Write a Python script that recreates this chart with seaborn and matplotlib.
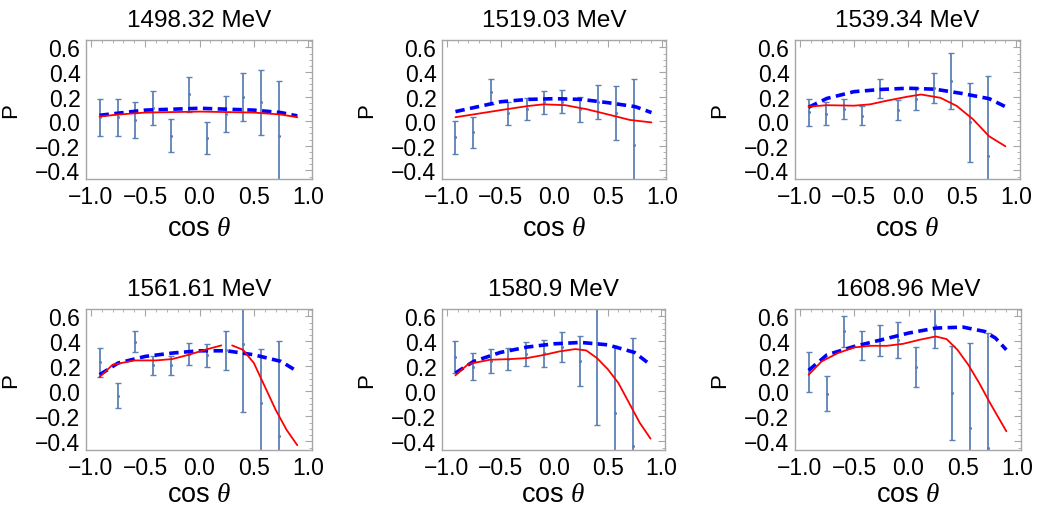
import numpy as np
import pandas as pd
import matplotlib
matplotlib.use("Agg")
import matplotlib.pyplot as plt
from matplotlib.ticker import MultipleLocator
import seaborn as sns

# ---------------- data ----------------
titles = ["1498.32 MeV", "1519.03 MeV", "1539.34 MeV",
          "1561.61 MeV", "1580.9 MeV", "1608.96 MeV"]

cos_bins = [-0.92, -0.755, -0.59, -0.43, -0.26, -0.095, 0.07, 0.24, 0.40, 0.57, 0.735]

p1 = [0.03, 0.03, 0.01, 0.107, -0.118, 0.217, -0.137, 0.059, 0.20, 0.155, -0.123]
e1 = [0.15, 0.15, 0.146, 0.14, 0.134, 0.142, 0.133, 0.145, 0.195, 0.264, 0.448]
p2 = [-0.132, -0.091, 0.239, 0.064, 0.10, 0.153, 0.158, 0.097, 0.156, 0.07, -0.196]
e2 = [0.133, 0.123, 0.10, 0.093, 0.09, 0.094, 0.093, 0.103, 0.137, 0.22, 0.54]
p3 = [0.072, 0.062, 0.10, 0.043, 0.263, 0.091, 0.18, 0.271, 0.33, -0.01, -0.28]
e3 = [0.11, 0.097, 0.08, 0.077, 0.078, 0.08, 0.087, 0.12, 0.227, 0.323, 0.644]
p4 = [0.232, -0.034, 0.397, 0.21, 0.21, 0.298, 0.288, 0.33, 0.38, -0.093, -0.36]
e4 = [0.116, 0.10, 0.084, 0.077, 0.077, 0.089, 0.093, 0.156, 0.548, 0.432, 0.76]
p5 = [0.277, 0.197, 0.245, 0.259, 0.299, 0.304, 0.357, 0.245, 0.385, -0.173, -0.435]
e5 = [0.13, 0.109, 0.097, 0.09, 0.093, 0.109, 0.121, 0.20, 0.653, 0.533, 0.861]
p6 = [0.155, -0.019, 0.48, 0.368, 0.41, 0.41, 0.195, 0.533, -0.011, -0.293, -0.45]
e6 = [0.161, 0.14, 0.127, 0.119, 0.123, 0.143, 0.16, 0.184, 0.376, 0.68, 0.92]

# red (solid) model curves
red_x1 = [-0.92, -0.75, -0.5, 0.0, 0.5, 0.75, 0.9]
red_y1 = [0.038, 0.054, 0.07, 0.078, 0.07, 0.054, 0.032]
red_x2 = [-0.92, -0.5, -0.25, -0.1, 0.1, 0.3, 0.5, 0.7, 0.9]
red_y2 = [0.032, 0.09, 0.123, 0.137, 0.13, 0.097, 0.054, 0.01, -0.01]
red_x3 = [-0.92, -0.75, -0.5, -0.35, -0.2, 0.0, 0.12, 0.3, 0.45, 0.6, 0.75, 0.9]
red_y3 = [0.118, 0.13, 0.126, 0.137, 0.166, 0.20, 0.217, 0.19, 0.124, 0.016, -0.123, -0.204]
red_x4 = [-0.92, -0.8, -0.6, -0.4, -0.25, -0.1, 0.05, 0.2,
          0.3, 0.4, 0.5, 0.6, 0.7, 0.8, 0.9]
red_y4 = [0.115, 0.213, 0.248, 0.248, 0.259, 0.293, 0.333, 0.368,
          0.368, 0.333, 0.227, 0.04, -0.147, -0.307, -0.432]
red_seg4 = [0, 0, 0, 0, 0, 0, 0, 0, 1, 1, 1, 1, 1, 1, 1]
red_x5 = [-0.92, -0.8, -0.6, -0.4, -0.25, -0.1, 0.05, 0.2, 0.3, 0.4, 0.5, 0.6, 0.7, 0.8, 0.9]
red_y5 = [0.128, 0.219, 0.253, 0.259, 0.267, 0.291, 0.32, 0.339, 0.328, 0.267, 0.179,
          0.067, -0.093, -0.253, -0.379]
red_x6 = [-0.92, -0.8, -0.65, -0.5, -0.35, -0.2, -0.05, 0.1, 0.25, 0.35, 0.45, 0.55,
          0.65, 0.75, 0.9]
red_y6 = [0.133, 0.24, 0.307, 0.352, 0.365, 0.365, 0.381, 0.413, 0.44, 0.419, 0.333,
          0.213, 0.067, -0.093, -0.32]

# blue (dashed) model curves
blue_x1 = [-0.92, -0.5, 0.0, 0.5, 0.75, 0.9]
blue_y1 = [0.048, 0.09, 0.105, 0.09, 0.07, 0.043]
blue_x2 = [-0.92, -0.5, -0.25, 0.0, 0.25, 0.5, 0.75, 0.9]
blue_y2 = [0.078, 0.158, 0.177, 0.183, 0.177, 0.15, 0.118, 0.07]
blue_x3 = [-0.92, -0.75, -0.5, -0.25, 0.0, 0.25, 0.5, 0.75, 0.9]
blue_y3 = [0.113, 0.185, 0.24, 0.258, 0.268, 0.26, 0.225, 0.183, 0.118]
blue_x4 = [-0.92, -0.75, -0.5, -0.25, 0.0, 0.25, 0.5, 0.75, 0.9]
blue_y4 = [0.133, 0.227, 0.28, 0.307, 0.325, 0.325, 0.293, 0.24, 0.16]
blue_x5 = [-0.92, -0.75, -0.5, -0.25, 0.0, 0.25, 0.5, 0.75, 0.9]
blue_y5 = [0.147, 0.24, 0.312, 0.355, 0.381, 0.392, 0.373, 0.312, 0.213]
blue_x6 = [-0.92, -0.75, -0.5, -0.25, 0.0, 0.25, 0.5, 0.7, 0.8, 0.9]
blue_y6 = [0.168, 0.293, 0.36, 0.413, 0.467, 0.507, 0.515, 0.48, 0.427, 0.333]

points = [(p1, e1), (p2, e2), (p3, e3), (p4, e4), (p5, e5), (p6, e6)]
reds = [(red_x1, red_y1, None), (red_x2, red_y2, None), (red_x3, red_y3, None),
        (red_x4, red_y4, red_seg4), (red_x5, red_y5, None), (red_x6, red_y6, None)]
blues = [(blue_x1, blue_y1), (blue_x2, blue_y2), (blue_x3, blue_y3),
         (blue_x4, blue_y4), (blue_x5, blue_y5), (blue_x6, blue_y6)]

# ---------------- style ----------------
sns.set_style("white")
plt.rcParams['font.family'] = ['Liberation Sans', 'DejaVu Sans']
plt.rcParams['mathtext.fontset'] = 'custom'
plt.rcParams['mathtext.it'] = 'Liberation Serif:italic'
plt.rcParams['mathtext.rm'] = 'Liberation Sans'
plt.rcParams['axes.unicode_minus'] = True
plt.rcParams['text.color'] = 'black'
plt.rcParams['axes.labelcolor'] = 'black'
plt.rcParams['xtick.color'] = 'black'
plt.rcParams['ytick.color'] = 'black'

W, H = 1037, 510
fig = plt.figure(figsize=(W / 100, H / 100), dpi=100)

frame_px = [(86, 312, 41, 180), (442, 666, 41, 180), (795, 1020, 41, 180),
            (86, 312, 310, 451), (442, 665, 310, 451), (795, 1021, 310, 451)]

err_col = (0.368, 0.507, 0.710)
frame_col = "#a6a6a6"

for i in range(6):
    l, r, t, b = frame_px[i]
    ax = fig.add_axes([l / W, 1 - b / H, (r - l) / W, (b - t) / H])
    p, e = points[i]
    ax.errorbar(cos_bins, p, yerr=e, fmt='none', ecolor=err_col, elinewidth=1.3,
                capsize=2.2, capthick=1.0, zorder=2)
    sns.scatterplot(x=cos_bins, y=p, ax=ax, color=err_col, s=5, linewidth=0, zorder=3)
    bx, by = blues[i]
    sns.lineplot(x=bx, y=by, ax=ax, color=(0, 0, 1), linewidth=2.6,
                 linestyle=(0, (2.6, 1.5)), sort=False, zorder=4)
    rx, ry, seg = reds[i]
    if seg is None:
        sns.lineplot(x=rx, y=ry, ax=ax, color=(1, 0, 0), linewidth=1.3, sort=False, zorder=5)
    else:
        df = pd.DataFrame({"x": rx, "y": ry, "seg": seg})
        sns.lineplot(data=df, x="x", y="y", units="seg", estimator=None, ax=ax,
                     color=(1, 0, 0), linewidth=1.3, sort=False, zorder=5)

    ax.set_xlim(-1.045, 1.035)
    ax.set_ylim(-0.47, 0.66)
    ax.xaxis.set_minor_locator(MultipleLocator(0.1))
    ax.yaxis.set_minor_locator(MultipleLocator(0.05))
    ax.set_xticks([-1.0, -0.5, 0.0, 0.5, 1.0])
    ax.set_xticklabels(["\u22121.0", "\u22120.5", "0.0", "0.5", "1.0"])
    ax.set_yticks([-0.4, -0.2, 0.0, 0.2, 0.4, 0.6])
    ax.set_yticklabels(["\u22120.4", "\u22120.2", "0.0", "0.2", "0.4", "0.6"])
    ax.tick_params(which='both', direction='in', top=True, right=True,
                   color=frame_col, labelsize=16.5, labelcolor='black')
    ax.tick_params(which='major', length=5, width=0.8, pad=4)
    ax.tick_params(which='minor', length=2.5, width=0.6)
    for sp in ax.spines.values():
        sp.set_color(frame_col)
        sp.set_linewidth(1.0)
    ax.set_title(titles[i], fontsize=17.5, pad=10, color='black')
    ax.set_xlabel(r"cos $\mathit{\theta}$", fontsize=19.5, labelpad=5 if i < 3 else 2)
    ax.set_ylabel("P", fontsize=16, labelpad=10)
    ax.grid(False)

fig.savefig("out.png", dpi=100)
